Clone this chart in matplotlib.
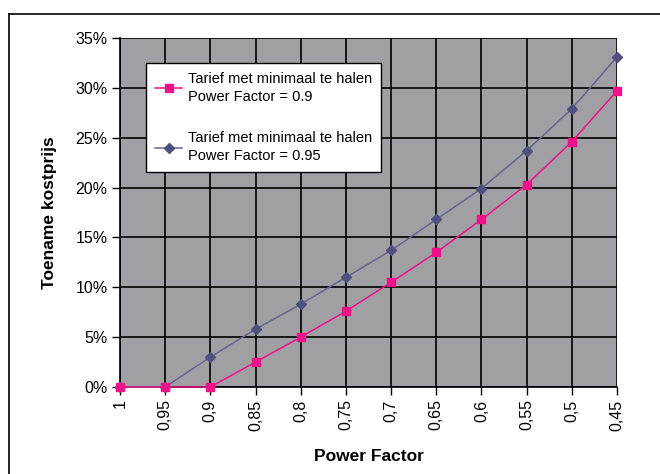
import matplotlib
matplotlib.use("Agg")
import matplotlib.pyplot as plt
import numpy as np

plt.rcParams['font.family'] = ['Liberation Sans', 'DejaVu Sans']

# Categories on the x axis (power factor, Dutch decimal comma)
pf_labels = ["1", "0,95", "0,9", "0,85", "0,8", "0,75", "0,7",
             "0,65", "0,6", "0,55", "0,5", "0,45"]

# Cost increase in percent
pf_090 = [0, 0, 0, 2.5, 5.0, 7.6, 10.5, 13.5, 16.8, 20.3, 24.6, 29.7]
pf_095 = [0, 0, 3.0, 5.8, 8.3, 11.0, 13.7, 16.8, 19.9, 23.7, 27.9, 33.1]

label_090 = "Tarief met minimaal te halen\nPower Factor = 0.9"
label_095 = "Tarief met minimaal te halen\nPower Factor = 0.95"

y_ticks = [0, 5, 10, 15, 20, 25, 30, 35]

fig = plt.figure(figsize=(6.6, 4.74), dpi=100)
ax = fig.add_axes([120 / 660, 1 - 387 / 474, 497 / 660, 349 / 474])
ax.set_facecolor("#A0A0A4")

x = np.arange(len(pf_labels))

ax.plot(x, pf_095, color="#64648E", lw=1.1, marker="D", markersize=5,
        markerfacecolor="#50507C", markeredgecolor="#50507C",
        label=label_095, zorder=3, clip_on=False)
ax.plot(x, pf_090, color="#EE1189", lw=1.1, marker="s", markersize=6,
        markerfacecolor="#EE1189", markeredgecolor="#EE1189",
        label=label_090, zorder=4, clip_on=False)

ax.set_xlim(0, len(pf_labels) - 1)
ax.set_ylim(0, 35)
ax.set_xticks(x)
ax.set_xticklabels(pf_labels, rotation=90, fontsize=11.5)
ax.set_yticks(y_ticks)
ax.set_yticklabels(["%d%%" % v for v in y_ticks], fontsize=11.5)
ax.tick_params(direction="out", length=6, width=1, color="black", pad=3)

ax.grid(True, color="black", lw=1.2, zorder=1)
ax.set_axisbelow(True)
for side in ["top", "right"]:
    ax.spines[side].set_visible(False)
for side in ["left", "bottom"]:
    ax.spines[side].set_color("black")
    ax.spines[side].set_linewidth(1.2)

ax.set_xlabel("Power Factor", fontsize=12.5, fontweight="bold", labelpad=13)
ax.set_ylabel("Toename kostprijs", fontsize=12.5, fontweight="bold", labelpad=13)

# legend order: PF 0.9 first
handles, labels = ax.get_legend_handles_labels()
leg = ax.legend(handles[::-1], labels[::-1], loc="upper left",
                bbox_to_anchor=(26 / 497, 1 - 25 / 349), borderaxespad=0,
                fontsize=10.5, frameon=True, fancybox=False, framealpha=1,
                edgecolor="black", handlelength=1.9, handletextpad=0.4,
                labelspacing=1.9, borderpad=0.6)
leg.get_frame().set_linewidth(1.0)
for t in leg.get_texts():
    t.set_linespacing(1.35)

# outer chart frame (runs off the right and bottom edges)
fig.add_artist(plt.Line2D([9 / 660, 9 / 660], [0, 1 - 14 / 474],
                          color="black", lw=1.2, transform=fig.transFigure))
fig.add_artist(plt.Line2D([9 / 660, 1], [1 - 14 / 474, 1 - 14 / 474],
                          color="black", lw=1.2, transform=fig.transFigure))

fig.savefig("out.png", dpi=100)
